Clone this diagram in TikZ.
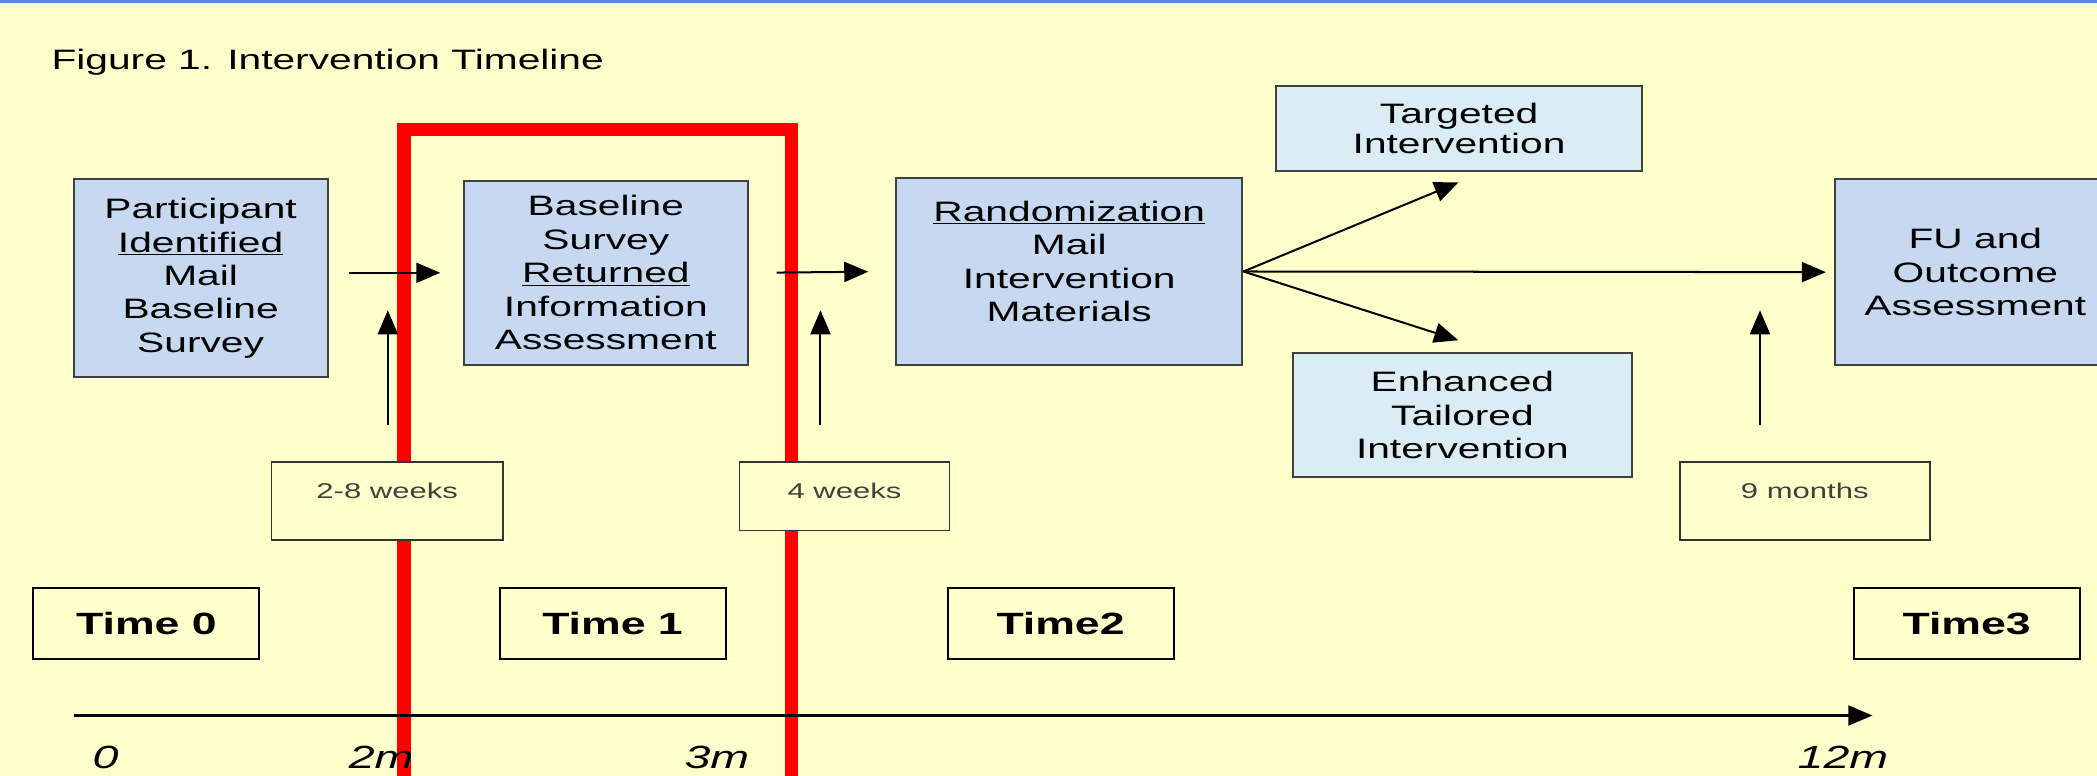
\documentclass[tikz,border=0pt]{standalone}
\usepackage{fontspec}
\setmainfont{Liberation Sans}[FakeStretch=1.45]
\usetikzlibrary{arrows.meta}
\definecolor{paper}{RGB}{255,255,204}
\definecolor{toprule}{RGB}{84,141,212}
\definecolor{boxblue}{RGB}{198,217,240}
\definecolor{boxpale}{RGB}{218,236,244}
\definecolor{boxedge}{RGB}{64,64,64}
\begin{document}
\begin{tikzpicture}[x=1pt,y=-1pt,
  mainbox/.style={draw=boxedge,line width=1.5pt,fill=boxblue,inner sep=0pt,align=center,
    font=\fontsize{21}{25}\selectfont},
  palebox/.style={mainbox,fill=boxpale},
  timebox/.style={draw=black,line width=1.5pt,fill=paper,minimum width=169pt,minimum height=53pt,
    inner sep=0pt,font=\fontsize{23}{27}\selectfont\bfseries},
  gapbox/.style={draw=black!80,line width=1.2pt,fill=paper,anchor=north,inner sep=0pt,
    text=black!75,font=\fontsize{16}{19}\selectfont,text height=27pt},
  monthlabel/.style={font=\fontsize{24}{28}\selectfont\itshape},
  arr/.style={line width=1.5pt,-{Triangle[length=18pt,width=15pt]}}]

% Page and top rule
\useasboundingbox (0,0) rectangle (1568,580);
\fill[paper] (0,0) rectangle (1568,580);
\fill[toprule] (0,0) rectangle (1568,2.5);

% Title
\node[anchor=base west,font=\fontsize{21}{25}\selectfont] (title) at (35,52) {Figure 1. Intervention Timeline};

% Red frame round Time 1
\draw[red,line width=10pt] (302,600) -- (302,97) -- (592,97) -- (592,600);

% Step boxes
\node[mainbox,minimum width=190pt,minimum height=148pt] (ident) at (150,208)
  {Participant\\\underline{Identified}\\Mail\\Baseline\\Survey};
\node[mainbox,minimum width=212pt,minimum height=138pt] (returned) at (453,204)
  {Baseline\\Survey\\\underline{Returned}\\Information\\Assessment};
\node[mainbox,minimum width=259pt,minimum height=140pt] (random) at (799.5,203)
  {\underline{Randomization}\\Mail\\Intervention\\Materials\\[-10pt]\mbox{}};
\node[palebox,minimum width=274pt,minimum height=64pt,font=\fontsize{21}{23}\selectfont] (targeted) at (1091,96)
  {Targeted\\Intervention};
\node[palebox,minimum width=253pt,minimum height=93pt] (tailored) at (1093.5,310.5)
  {Enhanced\\Tailored\\Intervention};
\node[mainbox,minimum width=210pt,minimum height=139pt] (outcome) at (1477,203.5)
  {FU and\\Outcome\\Assessment};

% Arrows between the steps
\draw[arr,shorten <=15pt,shorten >=17pt] (ident.east |- returned.west) -- (returned.west);
\draw[arr,shorten <=21pt,shorten >=20pt] (returned.east) -- (random.west);
\draw[arr,shorten >=20pt] (random.east) -- ([xshift=18pt]targeted.south);
\draw[arr,shorten >=29pt] (random.east) -- ([xshift=24.5pt]tailored.north);
\draw[arr,shorten >=6pt] (random.east) -- (outcome.west);

% Waiting times
\node[gapbox,minimum width=173pt,text depth=31pt] (weeksA) at (289.5,345) {2-8 weeks};
\node[gapbox,minimum width=157pt,text depth=24pt] (weeksB) at (631.5,345) {4 weeks};
\node[gapbox,minimum width=187pt,text depth=31pt] (months) at (1349.5,345) {9 months};
\coordinate (upA) at (290,232);
\coordinate (upB) at (613.5,232);
\coordinate (upC) at (1316,232);
\draw[arr,shorten <=27pt] (weeksA.north -| upA) -- (upA);
\draw[arr,shorten <=27pt] (weeksB.north -| upB) -- (upB);
\draw[arr,shorten <=27pt] (months.north -| upC) -- (upC);

% Time points
\node[timebox] (time0) at (109.5,466.5) {Time 0};
\node[timebox] (time1) at (458,466.5) {Time 1};
\node[timebox] (time2) at (793,466.5) {Time2};
\node[timebox] (time3) at (1470.5,466.5) {Time3};

% Time axis
\coordinate (axstart) at (55,535);
\coordinate (axend) at (1400,535);
\draw[arr] (axstart) -- (axend);
\node[monthlabel] (m0) at (79,566) {0};
\node[monthlabel] (m2) at (285,566) {2m};
\node[monthlabel] (m3) at (536,566) {3m};
\node[monthlabel] (m12) at (1378,566) {12m};
\end{tikzpicture}
\end{document}
